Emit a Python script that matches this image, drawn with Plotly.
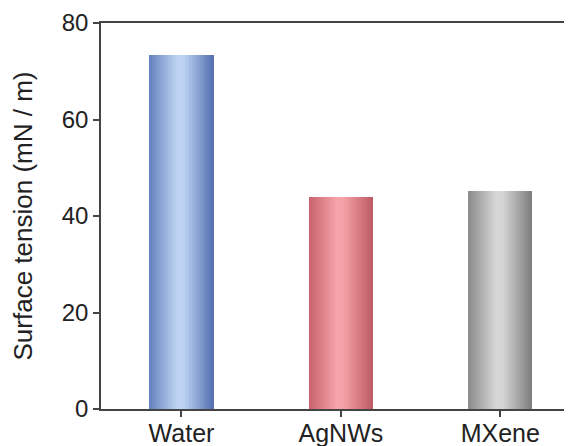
import plotly.graph_objects as go

categories = ["Water", "AgNWs", "MXene"]
values = [73.3, 44.0, 45.2]
y_ticks = [0, 20, 40, 60, 80]

# gradient stops per bar: (position, rgb)
gradients = [
    [(0.0, (100, 128, 190)), (0.45, (190, 214, 243)), (0.55, (186, 210, 241)), (1.0, (84, 112, 176))],
    [(0.0, (200, 96, 106)), (0.45, (246, 164, 170)), (0.55, (244, 160, 166)), (1.0, (190, 90, 100))],
    [(0.0, (138, 138, 138)), (0.45, (216, 216, 216)), (0.55, (212, 212, 212)), (1.0, (126, 126, 126))],
]

def interp(stops, t):
    for (p0, c0), (p1, c1) in zip(stops[:-1], stops[1:]):
        if p0 <= t <= p1:
            f = (t - p0) / (p1 - p0) if p1 > p0 else 0
            return "rgb(%d,%d,%d)" % tuple(round(a + (b - a) * f) for a, b in zip(c0, c1))
    return "rgb(%d,%d,%d)" % stops[-1][1]

bar_width = 0.4
n_slices = 48
sw = bar_width / n_slices

fig = go.Figure()
for i in range(n_slices):
    t = (i + 0.5) / n_slices
    fig.add_trace(go.Bar(
        x=categories, y=values,
        offset=-bar_width / 2 + i * sw, width=sw * 1.15,
        marker=dict(color=[interp(g, t) for g in gradients], line=dict(width=0)),
        showlegend=False, hoverinfo="skip",
    ))

tick_font = dict(family="Liberation Sans, Arial, sans-serif", size=24, color="#222222")
x_font = dict(family="Liberation Sans, Arial, sans-serif", size=25, color="#222222")
title_font = dict(family="Liberation Sans, Arial, sans-serif", size=26, color="#222222")
fig.update_layout(
    width=564, height=438,
    margin=dict(l=93, r=0, t=15, b=37),
    paper_bgcolor="white", plot_bgcolor="white",
    barmode="overlay", bargap=0,
    font=tick_font,
    xaxis=dict(
        type="category", range=[-0.505, 2.45], automargin=False,
        showline=True, linecolor="#444444", linewidth=1.5, mirror=True,
        ticks="outside", ticklen=6, tickwidth=1.5, tickcolor="#444444",
        ticklabelstandoff=-5,
        showgrid=False, zeroline=False, tickfont=x_font,
    ),
    yaxis=dict(
        range=[0, 80], tickvals=y_ticks, automargin=False,
        showline=True, linecolor="#444444", linewidth=1.5,
        ticks="outside", ticklen=6, tickwidth=1.5, tickcolor="#444444",
        showgrid=False, zeroline=False, tickfont=tick_font,
        title=dict(text="Surface tension (mN / m)", font=title_font, standoff=22),
    ),
)

fig.write_html("out.html")
